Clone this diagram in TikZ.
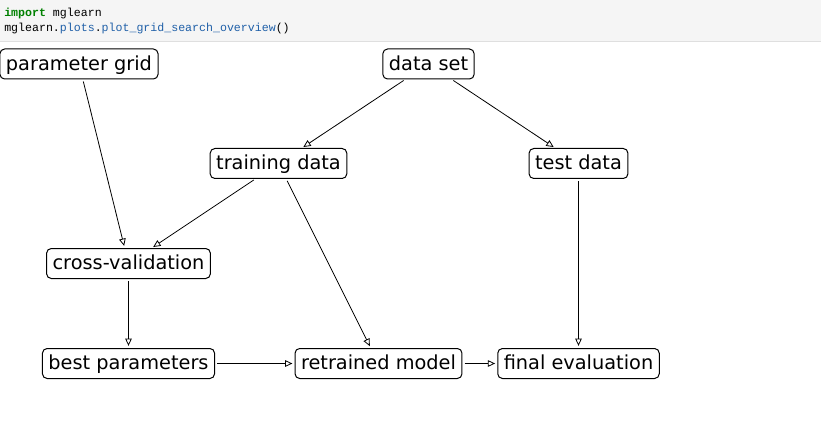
\documentclass[tikz,border=0pt]{standalone}
\usepackage{fontspec}
\setmainfont{DejaVu Sans}
\newfontfamily\codefont{Liberation Mono}
\usetikzlibrary{arrows.meta}
\definecolor{codebg}{HTML}{F5F5F5}
\definecolor{codeline}{HTML}{DFDFDF}
\definecolor{kwgreen}{HTML}{008000}
\definecolor{fnblue}{HTML}{2060A8}
\begin{document}
\begin{tikzpicture}[x=0.75pt,y=-0.75pt,
  box/.style={draw=black, line width=0.75pt, rounded corners=3.5pt,
    font=\fontsize{14.5}{17}\selectfont, inner xsep=4.5pt, inner ysep=0pt,
    text height=11pt, text depth=1.5pt, minimum height=22.5pt, outer sep=0pt},
  conn/.style={line width=0.6pt, -{Triangle[open,length=5.5pt,width=5pt]},
    shorten >=2pt, shorten <=2pt},
  code/.style={anchor=base west, inner sep=0pt, font=\codefont\fontsize{8.7}{10}\selectfont}]
\useasboundingbox (0,0) rectangle (821,431);
% code cell
\fill[codebg] (0,0) rectangle (821,42);
\draw[codeline, line width=0.75pt] (0,42) -- (821,42);
\node[code] (l1) at (4,16.5) {\textcolor{kwgreen}{\bfseries import} mglearn};
\node[code] (l2) at (4,31.5) {mglearn.\textcolor{fnblue}{plots}.\textcolor{fnblue}{plot\_grid\_search\_overview}()};
% nodes
\node[box] (pgrid) at (79,64) {parameter grid};
\node[box] (dset) at (428.5,64) {data set};
\node[box] (train) at (278.5,163.5) {training data};
\node[box] (test) at (578.5,163.5) {test data};
\node[box] (cv) at (128.5,263.5) {cross-validation};
\node[box] (best) at (128.5,363.5) {best parameters};
\node[box] (retrain) at (378.5,363.5) {retrained model};
\node[box] (final) at (578.5,363.5) {final evaluation};
% connectors
\draw[conn] (pgrid) -- (cv);
\draw[conn] (dset) -- (train);
\draw[conn] (dset) -- (test);
\draw[conn] (train) -- (cv);
\draw[conn] (train) -- (retrain);
\draw[conn] (test) -- (final);
\draw[conn] (cv) -- (best);
\draw[conn] (best) -- (retrain);
\draw[conn] (retrain) -- (final);
\end{tikzpicture}
\end{document}
